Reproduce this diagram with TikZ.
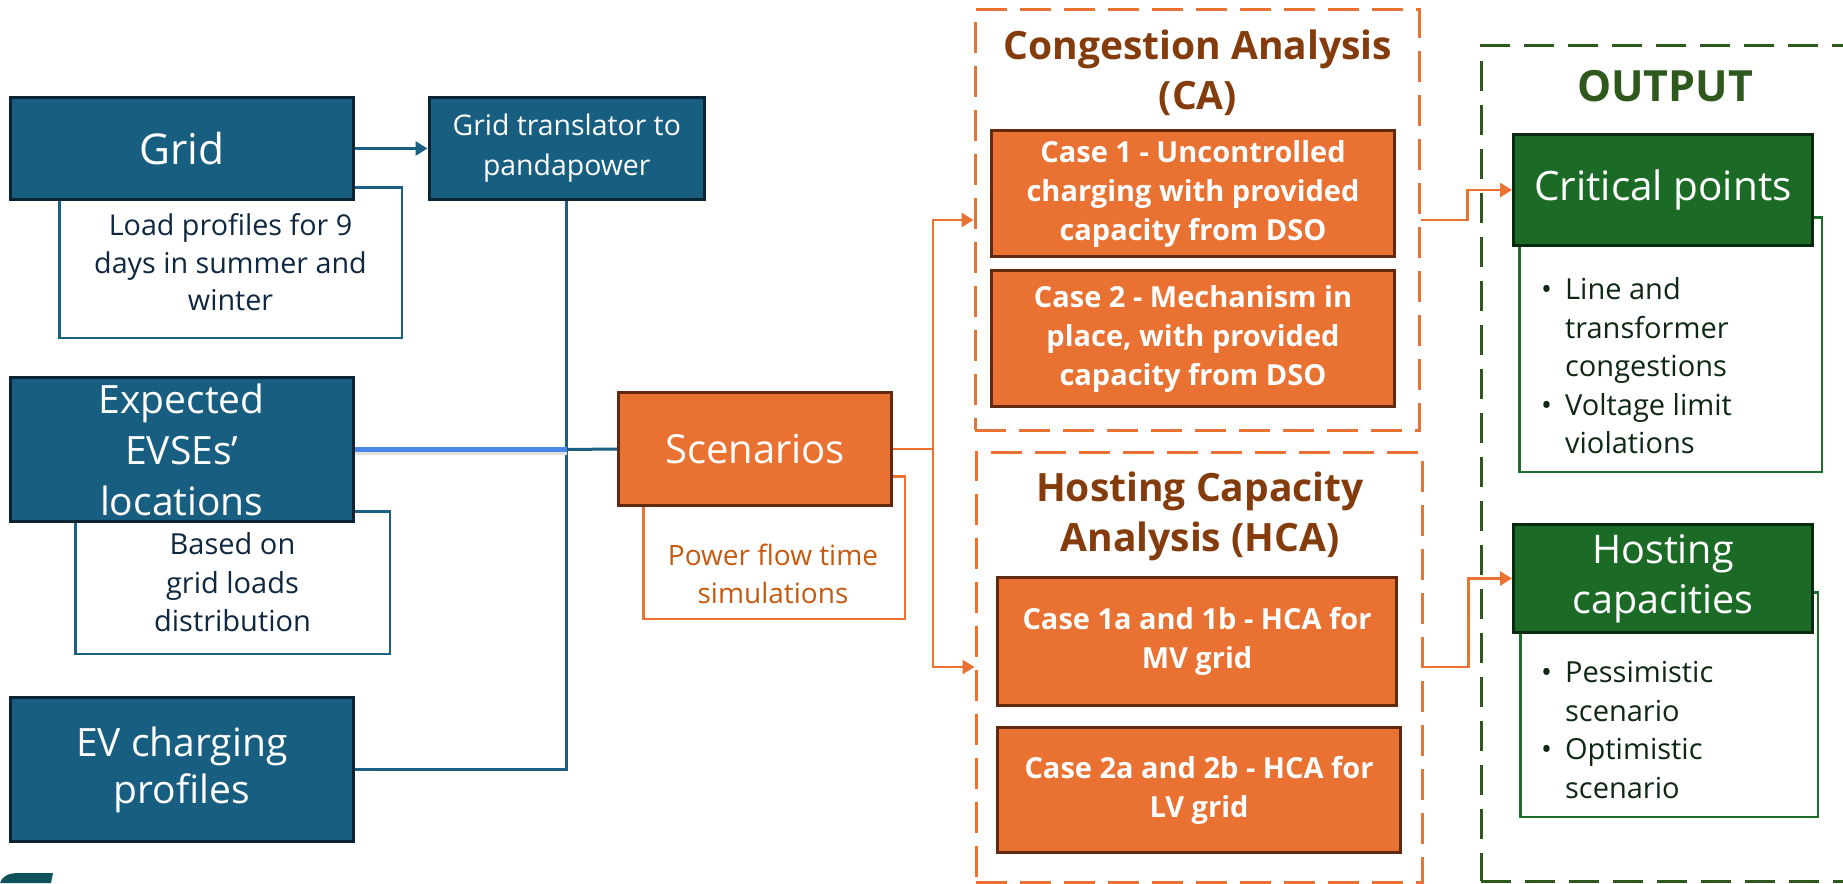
\documentclass[tikz,border=0pt]{standalone}
\usepackage{fontspec}
\setmainfont{Open Sans}
\usetikzlibrary{arrows.meta}
\definecolor{bluefill}{RGB}{24,94,128}
\definecolor{blueedge}{RGB}{10,36,52}
\definecolor{blueline}{RGB}{26,96,130}
\definecolor{navytext}{RGB}{14,40,65}
\definecolor{hlblue}{RGB}{74,134,232}
\definecolor{orfill}{RGB}{233,113,50}
\definecolor{oredge}{RGB}{97,42,14}
\definecolor{ortitle}{RGB}{132,60,12}
\definecolor{ortext}{RGB}{197,90,17}
\definecolor{grfill}{RGB}{27,107,38}
\definecolor{gredge}{RGB}{8,42,14}
\definecolor{grline}{RGB}{30,110,42}
\definecolor{grdash}{RGB}{46,88,28}
\definecolor{grtext}{RGB}{14,40,20}
\definecolor{logo}{RGB}{15,82,92}
\tikzset{
  bluebox/.style={draw=blueedge, fill=bluefill, line width=3pt, text=white, align=center, inner sep=0pt},
  bluenote/.style={draw=blueline, fill=white, line width=2.5pt, text=navytext, align=center, inner sep=0pt},
  orbox/.style={draw=oredge, fill=orfill, line width=3pt, text=white, align=center, inner sep=0pt},
  casebox/.style={orbox, font=\bfseries\fontsize{29}{39}\selectfont},
  ornote/.style={draw=orfill, fill=white, line width=2.5pt, inner sep=0pt},
  dashor/.style={draw=orfill, line width=3pt, dash pattern=on 31pt off 13pt, inner sep=0pt},
  dashgr/.style={draw=grdash, line width=3pt, dash pattern=on 30pt off 14pt, inner sep=0pt},
  grbox/.style={draw=gredge, fill=grfill, line width=3pt, text=white, align=center, inner sep=0pt, font=\fontsize{39.5}{50}\selectfont},
  grnote/.style={draw=grline, fill=white, line width=2.5pt, inner sep=0pt},
  bconn/.style={draw=blueline, line width=3pt},
  oconn/.style={draw=orfill, line width=2.7pt},
  tip/.style={-{Triangle[length=12pt,width=14pt]}},
  ortitlefont/.style={text=ortitle, align=center, inner sep=0pt, font=\bfseries\fontsize{39}{50}\selectfont},
  bullettext/.style={text=grtext, inner sep=0pt, anchor=west, font=\fontsize{29}{38.5}\selectfont}
}
\begin{document}
\begin{tikzpicture}[x=1pt,y=-1pt]
\useasboundingbox (0,0) rectangle (1843,883);
\fill[white] (0,0) rectangle (1843,883);

% ---------- notes (behind main boxes)
\node[bluenote, minimum width=342.5pt, minimum height=150.5pt, font=\fontsize{28.7}{37.5}\selectfont] (load) at (230.5,262.5)
  {Load profiles for 9\\days in summer and\\winter};
\node[bluenote, minimum width=314.5pt, minimum height=142.5pt, font=\fontsize{29}{38.5}\selectfont] (based) at (232.5,582.5)
  {Based on\\grid loads\\distribution};
\node[ornote, minimum width=261.5pt, minimum height=142.5pt] (pfbox) at (774,547.5) {};
\node[text=ortext, align=center, inner sep=0pt, font=\fontsize{28}{38}\selectfont] (pftext) at (773,574)
  {Power flow time\\simulations};

% ---------- left main boxes
\node[bluebox, minimum width=342.5pt, minimum height=102pt, font=\fontsize{42.5}{50}\selectfont] (grid) at (181.75,148.5) {Grid};
\node[bluebox, minimum width=275.5pt, minimum height=102pt, font=\fontsize{28.4}{40}\selectfont] (trans) at (566.75,148.5)
  {Grid translator to\\pandapower};
\node[bluebox, minimum width=342.5pt, minimum height=144pt, font=\fontsize{39}{51}\selectfont] (evse) at (181.75,449.5)
  {Expected\\EVSEs’\\locations};
\node[bluebox, minimum width=342.5pt, minimum height=144pt, font=\fontsize{39}{47}\selectfont] (ev) at (181.75,769.5)
  {EV charging\\profiles};

% ---------- scenarios
\node[orbox, minimum width=273pt, minimum height=113pt, font=\fontsize{40}{50}\selectfont] (scen) at (755,449) {Scenarios};

% ---------- CA group
\node[dashor, minimum width=444pt, minimum height=420pt] (ca) at (1197,220) {};
\node[ortitlefont] (catitle) at (1198,73) {Congestion Analysis\\(CA)};
\node[casebox, minimum width=403pt, minimum height=126pt] (case1) at (1193,193.5)
  {Case 1 - Uncontrolled\\charging with provided\\capacity from DSO};
\node[casebox, minimum width=403pt, minimum height=136pt] (case2) at (1193,338.5)
  {Case 2 - Mechanism in\\place, with provided\\capacity from DSO};

% ---------- HCA group
\node[dashor, minimum width=446pt, minimum height=430pt] (hca) at (1199,667) {};
\node[ortitlefont] (hcatitle) at (1200,516) {Hosting Capacity\\Analysis (HCA)};
\node[casebox, minimum width=399pt, minimum height=128pt] (case1a) at (1197,641.5)
  {Case 1a and 1b - HCA for\\MV grid};
\node[casebox, minimum width=403pt, minimum height=125pt] (case2a) at (1199,790)
  {Case 2a and 2b - HCA for\\LV grid};

% ---------- OUTPUT group
\node[dashgr, minimum width=389pt, minimum height=835pt] (out) at (1675.5,463.5) {};
\node[text=grdash, inner sep=0pt, font=\bfseries\fontsize{43}{50}\selectfont] (outtitle) at (1665,86) {OUTPUT};
\node[grnote, minimum width=302.5pt, minimum height=254.5pt] (critnote) at (1670.5,344.5) {};
\node[bullettext] (crittext) at (1541,369)
  {\begin{tabular}{@{}l@{\hspace{13pt}}l@{}}
   \textbullet & Line and\\ & transformer\\ & congestions\\
   \textbullet & Voltage limit\\ & violations
   \end{tabular}};
\node[grbox, minimum width=299pt, minimum height=111pt, font=\fontsize{40.5}{50}\selectfont] (crit) at (1663,190) {Critical points};
\node[grnote, minimum width=297.5pt, minimum height=224.5pt] (hostnote) at (1669,704.5) {};
\node[bullettext] (hosttext) at (1541,733)
  {\begin{tabular}{@{}l@{\hspace{13pt}}l@{}}
   \textbullet & Pessimistic\\ & scenario\\
   \textbullet & Optimistic\\ & scenario
   \end{tabular}};
\node[grbox, minimum width=299pt, minimum height=108pt] (host) at (1663,578.5) {Hosting\\capacities};

% ---------- connectors
\draw[bconn, tip] (grid.east) -- (trans.west);
\coordinate (bj) at (trans.south |- evse.east);
\draw[bconn] (trans.south) |- (ev.east);
\draw[line width=4.5pt, black!12] ([yshift=-3pt]evse.east) -- ([yshift=-3pt]bj);
\draw[line width=4.5pt, hlblue] (evse.east) -- (bj);
\draw[bconn] (bj) -- (scen.west);

\coordinate (oj) at (933,449);
\draw[oconn] (scen.east) -- (oj);
\draw[oconn, tip] (oj) |- (ca.west);
\draw[oconn, tip] (oj) |- (hca.west);
\draw[oconn, tip] (ca.east) -- ++(47,0) |- (crit.west);
\draw[oconn, tip] (hca.east) -- ++(45,0) |- (host.west);

% ---------- logo fragment
\fill[logo] (0,883) -- (2,879) .. controls (6,874) and (12,873) .. (20,873) -- (53,873) -- (51,883) -- cycle;
\end{tikzpicture}
\end{document}
